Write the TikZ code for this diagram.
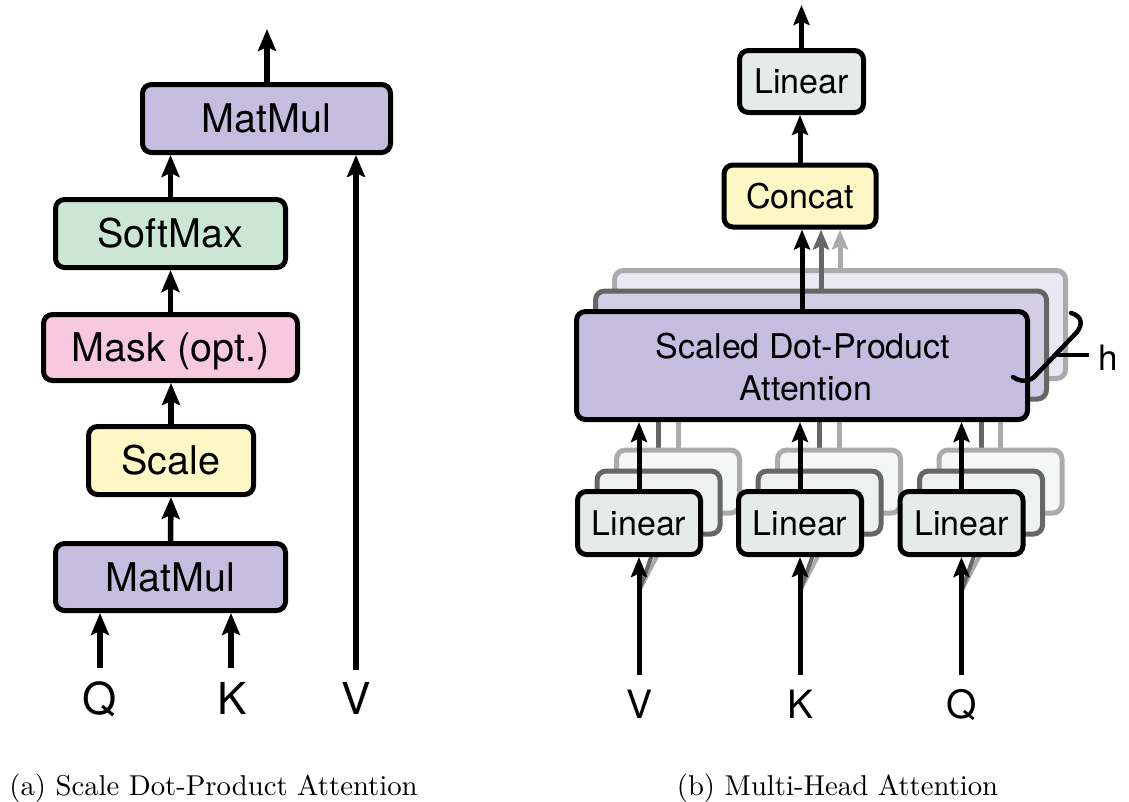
\documentclass[tikz,border=0pt]{standalone}
\usepackage{fontspec}
\newfontfamily\hv{TeX Gyre Heros}
\usetikzlibrary{arrows.meta,backgrounds}

\definecolor{mmpurple}{HTML}{C4BDDF}
\definecolor{smgreen}{HTML}{CBE7D3}
\definecolor{mkpink}{HTML}{F7C8DE}
\definecolor{scyellow}{HTML}{FCF7C4}
\definecolor{lingray}{HTML}{E6EBE9}
\definecolor{headmid}{HTML}{D3CEE6}
\definecolor{headfar}{HTML}{EAE8F3}
\definecolor{linmid}{HTML}{EEF1F0}
\definecolor{linfar}{HTML}{F5F6F6}
\definecolor{edgemid}{HTML}{666666}
\definecolor{edgefar}{HTML}{ABABAB}

\tikzset{
  % left column boxes
  blk/.style={draw=black, line width=5pt, rounded corners=9pt, inner sep=0pt,
    text height=28.4pt, text depth=0pt, font=\hv\fontsize{39.5pt}{41pt}\selectfont},
  % right column boxes
  rblk/.style={draw=black, line width=5pt, rounded corners=9pt, inner sep=0pt,
    text height=24.4pt, text depth=0pt, font=\hv\fontsize{34pt}{36pt}\selectfont},
  midbox/.style={rblk, draw=edgemid},
  farbox/.style={rblk, draw=edgefar},
  txt/.style={inner sep=0pt, anchor=base, font=\hv\fontsize{34pt}{36pt}\selectfont},
  lblL/.style={inner sep=0pt, anchor=base, font=\hv\fontsize{44pt}{46pt}\selectfont},
  lblR/.style={inner sep=0pt, anchor=base, font=\hv\fontsize{39pt}{41pt}\selectfont},
  arr/.style={line width=5.5pt, -{Stealth[length=22pt,width=18pt,inset=4pt]}},
  rarr/.style={line width=5pt, -{Stealth[length=20pt,width=16pt,inset=3.5pt]}},
  ghost/.style={line width=5pt},
  captxt/.style={inner sep=0pt, anchor=base},
}

\begin{document}
\begin{tikzpicture}[x=1pt,y=-1pt]
\useasboundingbox (0,0) rectangle (1129,801);

% ---------------- (a) scaled dot-product attention ----------------
\node[blk, fill=mmpurple, minimum width=248pt, minimum height=68pt] (mmtop) at (266.5,118.5) {MatMul};
\node[blk, fill=smgreen,  minimum width=230pt, minimum height=68pt] (smx)   at (170.5,233.5) {SoftMax};
\node[blk, fill=mkpink,   minimum width=254pt, minimum height=66pt] (mask)  at (170.5,347.5) {Mask (opt.)};
\node[blk, fill=scyellow, minimum width=165pt, minimum height=68pt] (scale) at (171,460.5)   {Scale};
\node[blk, fill=mmpurple, minimum width=230pt, minimum height=67pt] (mmbot) at (170.5,577)   {MatMul};

\node[lblL] (q) at (100,714) {Q};
\node[lblL] (k) at (232,714) {K};
\node[lblL] (v) at (356,714) {V};

\coordinate (qin) at (100,668);
\coordinate (kin) at (231,668);
\coordinate (vin) at (356,670);
\coordinate (outA) at (267,29);

\draw[arr] (qin) -- (qin |- mmbot.south);
\draw[arr] (kin) -- (kin |- mmbot.south);
\draw[arr] (mmbot.north) -- (scale.south);
\draw[arr] (scale.north) -- (scale.north |- mask.south);
\draw[arr] (mask.north) -- (mask.north |- smx.south);
\draw[arr] (smx.north) -- (smx.north |- mmtop.south);
\draw[arr] (vin) -- (vin |- mmtop.south);
\draw[arr] (outA |- mmtop.north) -- (outA);

\node[captxt] (capa) at (213.5,795) {\scalebox{2.87}{(a) Scale Dot-Product Attention}};

% ---------------- (b) multi-head attention ----------------
% stacked attention heads
\node[farbox, fill=headfar,  minimum width=451pt, minimum height=108pt] (sdpa3) at (840,324.5) {};
\node[midbox, fill=headmid,  minimum width=451pt, minimum height=108pt] (sdpa2) at (821,345) {};
\node[rblk,   fill=mmpurple, minimum width=451pt, minimum height=108pt] (sdpa)  at (802,365.5) {};
\node[txt] (sdpaA) at (803,358.6) {Scaled Dot-Product};
\node[txt] (sdpaB) at (806,400) {Attention};

\node[rblk, fill=scyellow, minimum width=152pt, minimum height=62pt] (concat) at (800,196) {Concat};
\node[rblk, fill=lingray,  minimum width=124pt, minimum height=62pt] (lintop) at (801.5,81.5) {Linear};

% stacked input projections
\foreach \n/\cx in {1/639, 2/800, 3/961.5} {
  \node[farbox, fill=linfar,  minimum width=123pt, minimum height=63pt] (lin\n c) at (\cx+39,481.5) {};
  \node[midbox, fill=linmid,  minimum width=123pt, minimum height=63pt] (lin\n b) at (\cx+19.5,502.5) {};
  \node[rblk,   fill=lingray, minimum width=123pt, minimum height=63pt] (lin\n)   at (\cx,523) {Linear};
}

\node[lblR] (vr) at (639,718) {V};
\node[lblR] (kr) at (800,718) {K};
\node[lblR] (qr) at (961.5,718) {Q};

\coordinate (vrin) at (639,675);
\coordinate (krin) at (800,675);
\coordinate (qrin) at (961.5,675);
\coordinate (outB) at (801.5,5);

% faded paths of the hidden heads, kept behind the boxes
\begin{pgfonlayer}{background}
  \foreach \n/\src in {1/vrin, 2/krin, 3/qrin} {
    \coordinate (fork\n) at ([yshift=84pt]\src);
    \draw[ghost, draw=edgefar, line width=4pt] (fork\n) -- (lin\n c.south);
    \draw[ghost, draw=edgemid, line width=4pt] (fork\n) -- (lin\n b.south);
    \draw[ghost, draw=edgemid] (lin\n b.north) -- (lin\n b.north |- sdpa2.south);
    \draw[ghost, draw=edgefar] (lin\n c.north) -- (lin\n c.north |- sdpa3.south);
  }
\end{pgfonlayer}

\draw[rarr] (vrin) -- (lin1.south);
\draw[rarr] (krin) -- (lin2.south);
\draw[rarr] (qrin) -- (lin3.south);
\draw[rarr] (lin1.north) -- (lin1.north |- sdpa.south);
\draw[rarr] (lin2.north) -- (lin2.north |- sdpa.south);
\draw[rarr] (lin3.north) -- (lin3.north |- sdpa.south);

\draw[rarr, draw=edgefar] (sdpa3.north) -- (sdpa3.north |- concat.south);
\draw[rarr, draw=edgemid] (sdpa2.north) -- (sdpa2.north |- concat.south);
\draw[rarr] (sdpa.north) -- (sdpa.north |- concat.south);
\draw[rarr] (concat.north) -- (concat.north |- lintop.south);
\draw[rarr] (lintop.north) -- (outB);

% head-count brace
\draw[line width=4.5pt, line cap=round]
  (1071,313) .. controls (1082,316) and (1083,324) .. (1077,332)
  -- (1037,374) .. controls (1030,383) and (1020,382) .. (1013,377);
\coordinate (bracemid) at (1055,355);
\node[inner sep=0pt, anchor=base, font=\hv\fontsize{35pt}{37pt}\selectfont] (h) at (1108,370) {h};
\draw[line width=4pt] (bracemid) -- (1089,355);

\node[captxt] (capb) at (837.5,795) {\scalebox{2.87}{(b) Multi-Head Attention}};
\end{tikzpicture}
\end{document}
